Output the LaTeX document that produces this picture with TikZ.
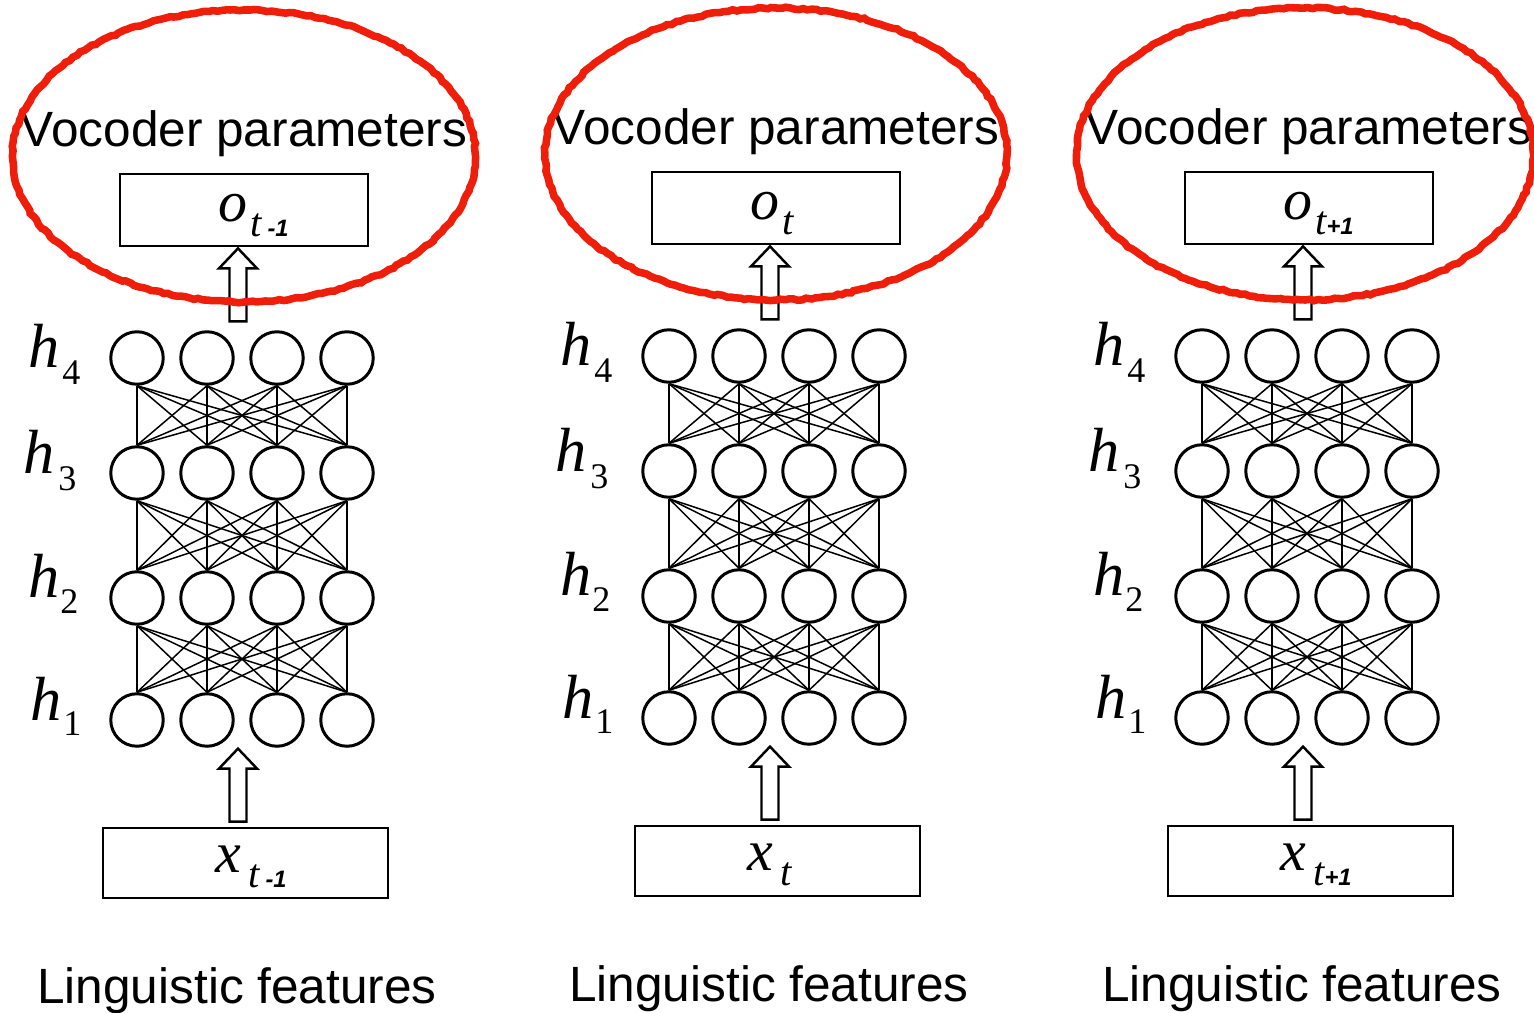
\documentclass[tikz,border=0pt]{standalone}
\usepackage{fontspec}
\setmainfont{Liberation Serif}
\setsansfont{Liberation Sans}
\usetikzlibrary{calc,decorations.pathmorphing}

\definecolor{markred}{RGB}{238,30,10}

% font sizes (1 unit = 0.02cm)
\newcommand\vocfont{\sffamily\fontsize{28.2pt}{31pt}\selectfont}
\newcommand\hfont{\itshape\fontsize{35.5pt}{38pt}\selectfont}
\newcommand\dfont{\fontsize{20.5pt}{22pt}\selectfont}
\newcommand\bigit{\itshape\fontsize{33pt}{36pt}\selectfont}
\newcommand\tsub{\itshape\fontsize{23pt}{25pt}\selectfont}
\newcommand\nsub{\sffamily\bfseries\itshape\fontsize{13.5pt}{15pt}\selectfont}

\tikzset{
  neuron/.style={circle, draw, line width=1.7pt, minimum size=1.05cm, inner sep=0pt, fill=white},
  framebox/.style={draw, line width=1.6pt, inner sep=0pt},
  link/.style={line width=0.85pt},
  txt/.style={inner sep=0pt, anchor=base west},
  redmark/.style={draw=markred, line width=4.3pt, decorate,
    decoration={random steps, segment length=2.5pt, amplitude=0.5pt}},
  uparrow/.pic={
    \draw[line width=1.4pt, fill=white, line join=miter]
      (0,0) -- (19,20) -- (8.5,20) -- (8.5,73) -- (-8.5,73) -- (-8.5,20) -- (-19,20) -- cycle;
  }
}

\begin{document}
\begin{tikzpicture}[x=0.02cm, y=-0.02cm]
\useasboundingbox (0,0) rectangle (1534,1013);
\fill[white] (0,0) rectangle (1534,1013);

\foreach \c/\dx/\dy/\subtxt/\ex/\erx in {
    1/0/0/{\hspace{3.4pt}\nsub -1}/244/4.63,
    2/532/-2/{}/244/4.62,
    3/1065/-2/{\nsub +1}/240/4.57} {
  \begin{scope}[shift={(\dx,\dy)}]
    % hidden layers
    \foreach \l/\ly in {1/720,2/598,3/473,4/358}
      \foreach \i/\nx in {1/137,2/207,3/277,4/347}
        \node[neuron] (n\c-\l-\i) at (\nx,\ly) {};
    % full connections between consecutive layers
    \foreach \l in {1,2,3} {
      \pgfmathtruncatemacro\u{\l+1}
      \foreach \i in {1,...,4}
        \foreach \j in {1,...,4}
          \draw[link] (n\c-\l-\i.north) -- (n\c-\u-\j.south);
    }
    % layer labels
    \foreach \l/\hx/\hy/\sx/\sy in {4/28/367/62/384, 3/23/473/58/490, 2/28/597/60/613, 1/30/720/63/735} {
      \node[txt] (h\c-\l) at (\hx,\hy) {\hfont h};
      \node[txt] (hs\c-\l) at (\sx,\sy) {\dfont \l};
    }
    % output
    \node[framebox, minimum width=4.96cm, minimum height=1.44cm] (o\c) at (244,210) {};
    \node[txt] (ol\c) at (218,222) {\bigit o};
    \node[txt] (os\c) at (250,237) {{\tsub t}\subtxt};
    \node[inner sep=0pt, anchor=base] (voc\c) at (244,147) {\vocfont Vocoder parameters};
    % input
    \node[framebox, minimum width=5.7cm, minimum height=1.4cm] (x\c) at (245.5,863) {};
    \node[txt] (xl\c) at (215,872) {\bigit x};
    \node[txt] (xs\c) at (248,887) {{\tsub t}\subtxt};
    \node[inner sep=0pt, anchor=base] (lf\c) at (237,1003) {\vocfont Linguistic features};
    % block arrows
    \pic at ($(o\c.south)+(-6,1)$) {uparrow};
    \pic at ($(x\c.north)+(-7.5,-78)$) {uparrow};
    % highlight
    \draw[redmark] (\ex,156) ellipse [x radius=\erx cm, y radius=2.92cm];
  \end{scope}
}
\end{tikzpicture}
\end{document}
